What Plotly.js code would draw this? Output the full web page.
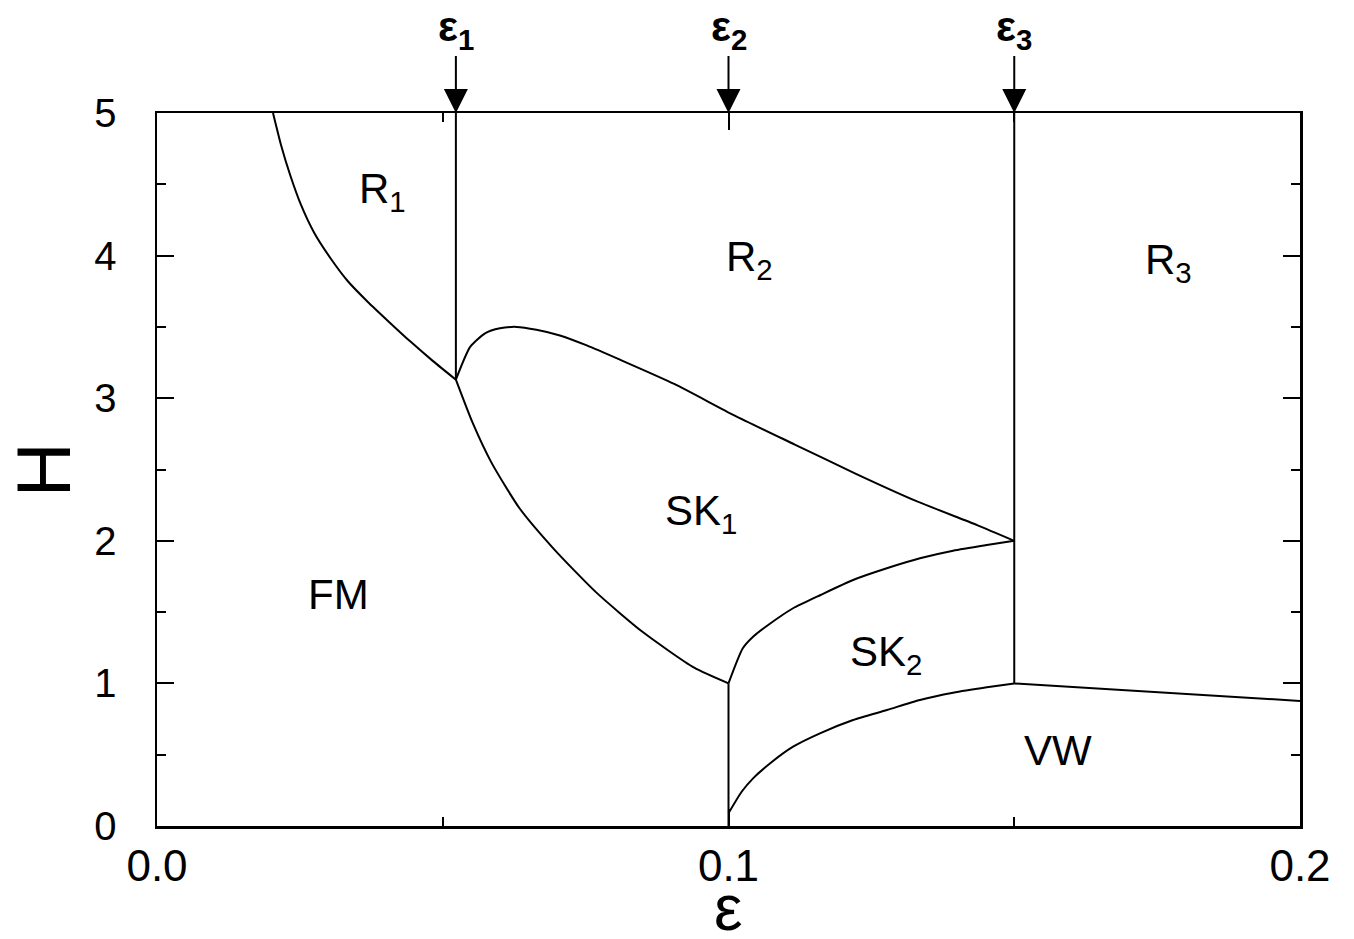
<!DOCTYPE html>
<html>
<head>
<meta charset="utf-8">
<script src="https://cdn.plot.ly/plotly-3.0.1.min.js"></script>
<style>
  html, body { margin: 0; padding: 0; background: #fff; }
  #phase { width: 1354px; height: 939px; }
</style>
</head>
<body>
<div id="phase"></div>
<script>
// phase boundaries (eps, H)
var fm_r1_eps = [0.0203, 0.0217, 0.0233, 0.0252, 0.0275, 0.0303, 0.0334, 0.0369, 0.0406, 0.0444, 0.0483, 0.0523];
var fm_r1_h   = [5.0,    4.776,  4.565,  4.355,  4.16,   3.985,  3.82,   3.675,  3.535,  3.395,  3.26,   3.13];

var r2_sk1_eps = [0.0523, 0.0548, 0.0574, 0.0600, 0.0629, 0.0664, 0.0705, 0.0752, 0.0810, 0.0905, 0.1010, 0.1116, 0.1223, 0.1328, 0.1435, 0.15];
var r2_sk1_h   = [3.13,   3.36,   3.455,  3.49,   3.50,   3.48,   3.44,   3.37,   3.27,   3.10,   2.88,   2.675,  2.47,   2.28,   2.11,   2.0];

var fm_sk1_eps = [0.0523, 0.0552, 0.0585, 0.0634, 0.0695, 0.0768, 0.0850, 0.0940, 0.1];
var fm_sk1_h   = [3.13,   2.83,   2.55,   2.23,   1.94,   1.64,   1.36,   1.11,   1.0];

var sk1_sk2_eps = [0.1, 0.1025, 0.1043, 0.1073, 0.1113, 0.1161, 0.1218, 0.1277, 0.1335, 0.1393, 0.1452, 0.15];
var sk1_sk2_h   = [1.0, 1.246,  1.327,  1.42,   1.527,  1.62,   1.725,  1.807,  1.877,  1.93,   1.97,   2.0];

var sk2_vw_eps = [0.1,   0.1023, 0.1043, 0.1073, 0.1113, 0.1160, 0.1218, 0.1277, 0.1335, 0.1393, 0.1452, 0.15];
var sk2_vw_h   = [0.089, 0.24,   0.334,  0.44,   0.556,  0.65,   0.743,  0.813,  0.884,  0.935,  0.973,  1.0];

var vw_r3_eps = [0.15, 0.175, 0.2];
var vw_r3_h   = [1.0,  0.94,  0.877];

// vertical lines at eps1, eps2, eps3
var eps1 = 0.0523;
var eps2 = 0.1;
var eps3 = 0.15;
var eps1_h = [3.13, 5];
var eps2_h = [0, 1.0];
var eps3_h = [1.0, 5];

// region labels
var region_text = ["R<sub>1</sub>", "R<sub>2</sub>", "R<sub>3</sub>", "SK<sub>1</sub>", "SK<sub>2</sub>", "FM", "VW"];
var region_eps  = [0.0395, 0.1036, 0.1770, 0.0952, 0.1276, 0.0317, 0.1577];
var region_h    = [4.45,   3.97,   3.95,   2.19,   1.20,   1.62,   0.53];

var arrow_eps  = [eps1, eps2, eps3];
var arrow_text = ["ε<sub>1</sub>", "ε<sub>2</sub>", "ε<sub>3</sub>"];

var font_family = "Arial, 'Liberation Sans', sans-serif";
var lw = 2;

function line(x, y, smooth) {
	var l = { color: "#000", width: lw };
	if (smooth) {
		l.shape = "spline";
		l.smoothing = 0.6;
	}
	return {
		mode: "lines",
		x: x,
		y: y,
		hoverinfo: "skip",
		line: l
	};
}

var data = [
	line(fm_r1_eps, fm_r1_h, true),
	line(r2_sk1_eps, r2_sk1_h, true),
	line(fm_sk1_eps, fm_sk1_h, true),
	line(sk1_sk2_eps, sk1_sk2_h, true),
	line(sk2_vw_eps, sk2_vw_h, true),
	line(vw_r3_eps, vw_r3_h),
	line([eps1, eps1], eps1_h),
	line([eps2, eps2], eps2_h),
	line([eps3, eps3], eps3_h)
];

var annotations = [];
for (var i = 0; i < region_text.length; i++) {
	annotations.push({
		x: region_eps[i],
		y: region_h[i],
		text: region_text[i],
		showarrow: false,
		font: { family: font_family, size: 42, color: "#000" }
	});
}
for (var j = 0; j < arrow_eps.length; j++) {
	// label with an arrow pointing down onto the top axis
	annotations.push({
		x: arrow_eps[j],
		y: 5,
		text: "<b>" + arrow_text[j] + "</b>",
		font: { family: font_family, size: 42, color: "#000" },
		showarrow: true,
		arrowhead: 2,
		arrowsize: 2.4,
		arrowwidth: 2,
		arrowcolor: "#000",
		ax: 0,
		ay: -84,
		borderpad: 0,
		standoff: 0
	});
}

// axis titles, placed as paper annotations
annotations.push({
	xref: "paper", yref: "paper",
	x: 0.5, y: -0.063,
	xanchor: "center", yanchor: "top",
	text: "ε",
	showarrow: false,
	borderpad: 0,
	font: { family: font_family, size: 64, color: "#000" }
});
annotations.push({
	xref: "paper", yref: "paper",
	x: -0.099, y: 0.5,
	xanchor: "center", yanchor: "middle",
	text: "H",
	textangle: -90,
	showarrow: false,
	font: { family: font_family, size: 76, color: "#000" }
});

var layout = {
	width: 1354,
	height: 939,
	paper_bgcolor: "#fff",
	plot_bgcolor: "#fff",
	showlegend: false,
	margin: { l: 157, r: 54, t: 113, b: 113, autoexpand: false },
	font: { family: font_family, color: "#000" },
	xaxis: {
		range: [0, 0.2],
		tickvals: [0, 0.1, 0.2],
		ticktext: ["0.0", "0.1", "0.2"],
		ticks: "inside",
		ticklen: 17,
		tickwidth: 2,
		tickcolor: "#000",
		showline: true,
		linewidth: 2.5,
		linecolor: "#000",
		mirror: "ticks",
		showgrid: false,
		zeroline: false,
		tickfont: { family: font_family, size: 44 },
		ticklabelstandoff: 0,
		minor: { tickvals: [0.05, 0.15], ticks: "inside", ticklen: 9, tickwidth: 2, tickcolor: "#000" }
	},
	yaxis: {
		range: [0, 5],
		dtick: 1,
		ticks: "inside",
		ticklen: 17,
		tickwidth: 2,
		tickcolor: "#000",
		showline: true,
		linewidth: 2.5,
		linecolor: "#000",
		mirror: "ticks",
		showgrid: false,
		zeroline: false,
		tickfont: { family: font_family, size: 40 },
		ticklabelstandoff: 30,
		minor: { dtick: 0.5, ticks: "inside", ticklen: 9, tickwidth: 2, tickcolor: "#000" }
	},
	annotations: annotations
};

Plotly.newPlot("phase", data, layout, { displayModeBar: false, staticPlot: true });
</script>
</body>
</html>
